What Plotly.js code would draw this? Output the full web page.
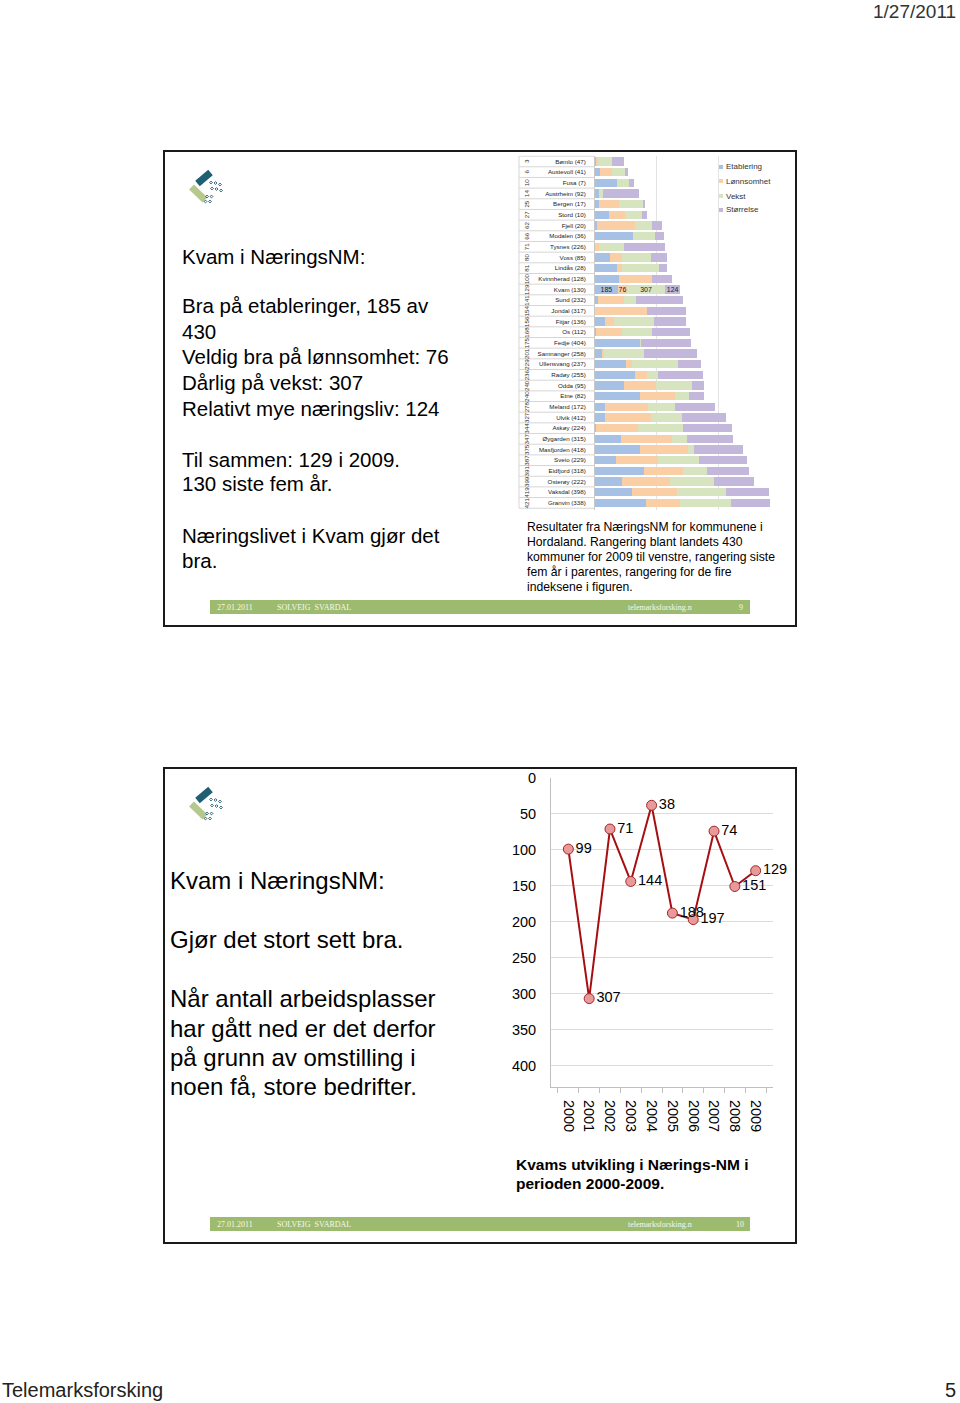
<!DOCTYPE html>
<html>
<head>
<meta charset="utf-8">
<script src="https://cdn.plot.ly/plotly-3.0.1.min.js"></script>
<style>html,body{margin:0;padding:0;background:#fff;}#chart{width:960px;height:1403px;}</style>
</head>
<body>
<div id="chart"></div>
<script>
// ---------- Data: slide 1 (NæringsNM Hordaland) ----------
const municipalities = ["Bømlo","Austevoll","Fusa","Austrheim","Bergen","Stord","Fjell","Modalen","Tysnes","Voss","Lindås","Kvinnherad","Kvam","Sund","Jondal","Fitjar","Os","Fedje","Samnanger","Ullensvang","Radøy","Odda","Etne","Meland","Ulvik","Askøy","Øygarden","Masfjorden","Sveio","Eidfjord","Osterøy","Vaksdal","Granvin"];
const rankFiveYears = [47,41,7,92,17,10,20,36,226,85,28,128,130,232,317,136,112,404,258,237,255,95,82,172,412,224,315,418,229,318,222,398,338];
const rank2009 = [3,6,10,14,25,27,62,66,71,80,81,100,129,141,154,156,168,175,201,229,236,240,240,278,327,344,347,375,387,391,399,419,421];
const etablering = [11,43,178,30,32,113,19,305,2,122,176,195,185,24,3,81,5,364,59,249,324,232,365,81,81,8,208,365,170,397,216,297,414];
const lonnsomhet = [14,97,3,3,165,130,305,3,28,100,46,265,76,214,416,76,216,3,14,54,100,259,286,349,376,343,414,392,338,314,392,365,276];
const vekst = [116,100,95,35,195,140,138,176,205,232,297,5,307,92,3,324,241,3,327,370,86,295,114,219,251,365,122,46,332,200,354,403,416];
const storrelse = [95,24,42,286,11,35,81,73,330,127,68,160,124,386,316,260,306,406,424,186,368,100,119,324,357,395,378,397,395,335,324,346,316];
const seriesNames = ["Etablering","Lønnsomhet","Vekst","Størrelse"];
const seriesColors = ["#a7c1e4","#fbcfa6","#d6e4bf","#c3b7db"];
const highlight = "Kvam";

// ---------- Data: slide 2 (Kvam 2000-2009) ----------
const years = ["2000","2001","2002","2003","2004","2005","2006","2007","2008","2009"];
const kvamRank = [99,307,71,144,38,188,197,74,151,129];
const rankTicks = [0,50,100,150,200,250,300,350,400];

// ---------- helpers ----------
const W = 960, H = 1403;
const FONT = "Liberation Sans, Arial, sans-serif";
const px = x => x / W;
const py = y => 1 - y / H;
function ann(x, y, text, size, o) {
  o = o || {};
  return Object.assign({xref:'paper', yref:'paper', x:px(x), y:py(y), text:text, showarrow:false,
    xanchor:'left', yanchor:'middle', font:{family:FONT, size:size, color:o.color || '#000'}}, o.extra || {});
}
function rectShape(x0,y0,x1,y1,o){
  return Object.assign({type:'rect', xref:'paper', yref:'paper', x0:px(x0), x1:px(x1), y0:py(y0), y1:py(y1)}, o);
}
function poly(points, color){
  let d = points.map((p,i)=> (i?'L':'M') + px(p[0]).toFixed(5) + ',' + py(p[1]).toFixed(5)).join(' ') + ' Z';
  return {type:'path', xref:'paper', yref:'paper', path:d, fillcolor:color, line:{width:0}};
}
function thickBar(p1, p2, t, color){
  const dx = p2[0]-p1[0], dy = p2[1]-p1[1], L = Math.hypot(dx,dy);
  const nx = -dy/L*t/2, ny = dx/L*t/2;
  return poly([[p1[0]+nx,p1[1]+ny],[p2[0]+nx,p2[1]+ny],[p2[0]-nx,p2[1]-ny],[p1[0]-nx,p1[1]-ny]], color);
}
function diamond(cx, cy, r, color){
  const d = 'M'+px(cx)+','+py(cy-r)+' L'+px(cx+r)+','+py(cy)+' L'+px(cx)+','+py(cy+r)+' L'+px(cx-r)+','+py(cy)+' Z';
  return {type:'path', xref:'paper', yref:'paper', path:d, line:{color:color, width:1}, fillcolor:'rgba(0,0,0,0)'};
}
function logo(dy){
  const s = [];
  s.push(thickBar([197.5,183.5+dy],[210.5,172.5+dy],7,'#1f5f73'));
  s.push(thickBar([191.5,187+dy],[205,200+dy],7,'#b5c98f'));
  const dots = [[211,182.5],[215.5,183],[220,184.5],[212,188.5],[216.5,189],[221,190.5],[207,196.5],[211.5,196.5],[205.5,201.5],[210,201.5]];
  dots.forEach(d => s.push(diamond(d[0], d[1]+dy, 1.4, '#2e6478')));
  return s;
}

const labels = municipalities.map((m,i) => m + ' (' + rankFiveYears[i] + ')');
const seriesData = [etablering, lonnsomhet, vekst, storrelse];

const traces = seriesData.map((vals, k) => ({
  type:'bar', orientation:'h', name:seriesNames[k],
  x:vals, y:labels, xaxis:'x', yaxis:'y',
  marker:{color:seriesColors[k], line:{width:0}},
  text: vals.map((v,i) => municipalities[i] === highlight ? String(v) : ''),
  textposition:'inside', insidetextanchor:'middle', constraintext:'none',
  textfont:{family:FONT, size:7, color:'#222'},
  hoverinfo:'x+y+name', showlegend:false
}));

traces.push({
  type:'scatter', mode:'lines+markers+text', x:years, y:kvamRank, xaxis:'x2', yaxis:'y2',
  text:kvamRank.map(String), textposition:'middle right', cliponaxis:false,
  textfont:{family:FONT, size:14.5, color:'#000'},
  line:{color:'#a50f12', width:2},
  marker:{size:10, color:'#e89a9a', line:{color:'#a0282a', width:1}},
  showlegend:false
});

const shapes = [];
const annotations = [];

// slide frames
shapes.push(rectShape(164,151,796,626,{line:{color:'#1a1a1a', width:2}, layer:'below'}));
shapes.push(rectShape(164,768,796,1243,{line:{color:'#1a1a1a', width:2}, layer:'below'}));

// footers
[[600,614,'9'],[1217,1231,'10']].forEach(f => {
  shapes.push(rectShape(210,f[0],750,f[1],{fillcolor:'#9dbb6f', line:{width:0}, layer:'below'}));
  const yc = (f[0]+f[1])/2;
  const ff = {family:'Liberation Serif, Times New Roman, serif', size:8, color:'#f4f8ec'};
  annotations.push(Object.assign(ann(215,yc,'27.01.2011',8),{font:ff}));
  annotations.push(Object.assign(ann(275,yc,'SOLVEIG  SVARDAL',8),{font:ff}));
  annotations.push(Object.assign(ann(626,yc,'telemarksforsking.n',8),{font:ff}));
  annotations.push(Object.assign(ann(f[2]==='9'?737:734,yc,f[2],8),{font:ff}));
});

// logos
logo(0).forEach(s => shapes.push(s));
logo(617).forEach(s => shapes.push(s));

// page texts
annotations.push(Object.assign(ann(958,11,'1/27/2011',19,{color:'#333'}),{xanchor:'right'}));
annotations.push(ann(0,1390,'Telemarksforsking',20,{color:'#222'}));
annotations.push(Object.assign(ann(958,1390,'5',20,{color:'#222'}),{xanchor:'right'}));

// slide 1 left text
[['Kvam i NæringsNM:',256],['Bra på etableringer, 185 av',306],['430',331],['Veldig bra på lønnsomhet: 76',357],
 ['Dårlig på vekst: 307',382],['Relativt mye næringsliv: 124',408],['Til sammen: 129 i 2009.',459],
 ['130 siste fem år.',484],['Næringslivet i Kvam gjør det',535],['bra.',560]].forEach(t => annotations.push(ann(180,t[1],t[0],20.5)));

// slide 1 caption
[['Resultater fra NæringsNM for kommunene i',527],['Hordaland. Rangering blant landets 430',542],
 ['kommuner for 2009 til venstre, rangering siste',557],['fem år i parentes, rangering for de fire',572],
 ['indeksene i figuren.',587]].forEach(t => annotations.push(ann(525,t[1],t[0],12.2)));

// slide 2 left text
[['Kvam i NæringsNM:',880],['Gjør det stort sett bra.',939],['Når antall arbeidsplasser',998],
 ['har gått ned er det derfor',1028],['på grunn av omstilling i',1057],['noen få, store bedrifter.',1086]].forEach(t => annotations.push(ann(168,t[1],t[0],24)));

// slide 2 caption
annotations.push(ann(514,1164,'<b>Kvams utvikling i Nærings-NM i</b>',15.5));
annotations.push(ann(514,1183,'<b>perioden 2000-2009.</b>',15.5));

// legend (manual, compact spacing like reference)
[167,181,196,210].forEach((yy,k) => {
  shapes.push(rectShape(719,yy-2,723,yy+2,{fillcolor:seriesColors[k], line:{width:0}}));
  annotations.push(ann(724,yy,seriesNames[k],8,{color:'#333'}));
});

// bar chart table: row separators, rank-2009 column
for (let i = 0; i <= labels.length; i++) {
  shapes.push({type:'line', xref:'paper', yref:'y', x0:px(519), x1:px(595), y0:i-0.5, y1:i-0.5, line:{color:'#d6d6d6', width:1}});
}
shapes.push({type:'line', xref:'paper', yref:'y', x0:px(519), x1:px(519), y0:-0.5, y1:labels.length-0.5, line:{color:'#d6d6d6', width:1}});
labels.forEach((lab,i) => {
  annotations.push({xref:'paper', yref:'y', x:px(526.5), y:lab, text:String(rank2009[i]), showarrow:false,
    textangle:-90, xanchor:'center', yanchor:'middle', font:{family:FONT, size:6.2, color:'#333'}});
});

const layout = {
  width:W, height:H, margin:{l:0,r:0,t:0,b:0}, paper_bgcolor:'#fff', plot_bgcolor:'rgba(0,0,0,0)',
  showlegend:false, barmode:'stack', bargap:0.22,
  font:{family:FONT, color:'#000'},
  xaxis:{domain:[px(595), px(780)], anchor:'y', range:[0,1500], tickvals:[500,1000], showticklabels:false,
    showgrid:true, gridcolor:'#e3e3e3', zeroline:false, showline:false, ticks:'', fixedrange:true},
  yaxis:{domain:[py(510.4), py(155.6)], anchor:'x', type:'category', autorange:'reversed',
    tickmode:'array', tickvals:labels, ticktext:labels, tickfont:{family:FONT, size:6.2, color:'#222'},
    showline:true, linecolor:'#c8c8c8', showgrid:false, ticks:'', ticklabelstandoff:7, fixedrange:true},
  xaxis2:{domain:[px(551), px(773)], anchor:'y2', type:'category', tickangle:90, tickfont:{family:FONT, size:14.5, color:'#000'},
    ticks:'outside', tickson:'boundaries', ticklen:5, tickcolor:'#bfbfbf', showline:true, linecolor:'#bfbfbf',
    showgrid:false, ticklabelstandoff:9},
  yaxis2:{domain:[py(1087), py(778)], anchor:'x2', range:[430,0], tickmode:'array', tickvals:rankTicks,
    tickfont:{family:FONT, size:14.5, color:'#000'}, showgrid:true, gridcolor:'#dcdcdc', showline:true,
    linecolor:'#bfbfbf', zeroline:false, ticks:'', ticklabelstandoff:11},
  shapes:shapes, annotations:annotations
};

Plotly.newPlot('chart', traces, layout, {staticPlot:true, displayModeBar:false});
</script>
</body>
</html>
